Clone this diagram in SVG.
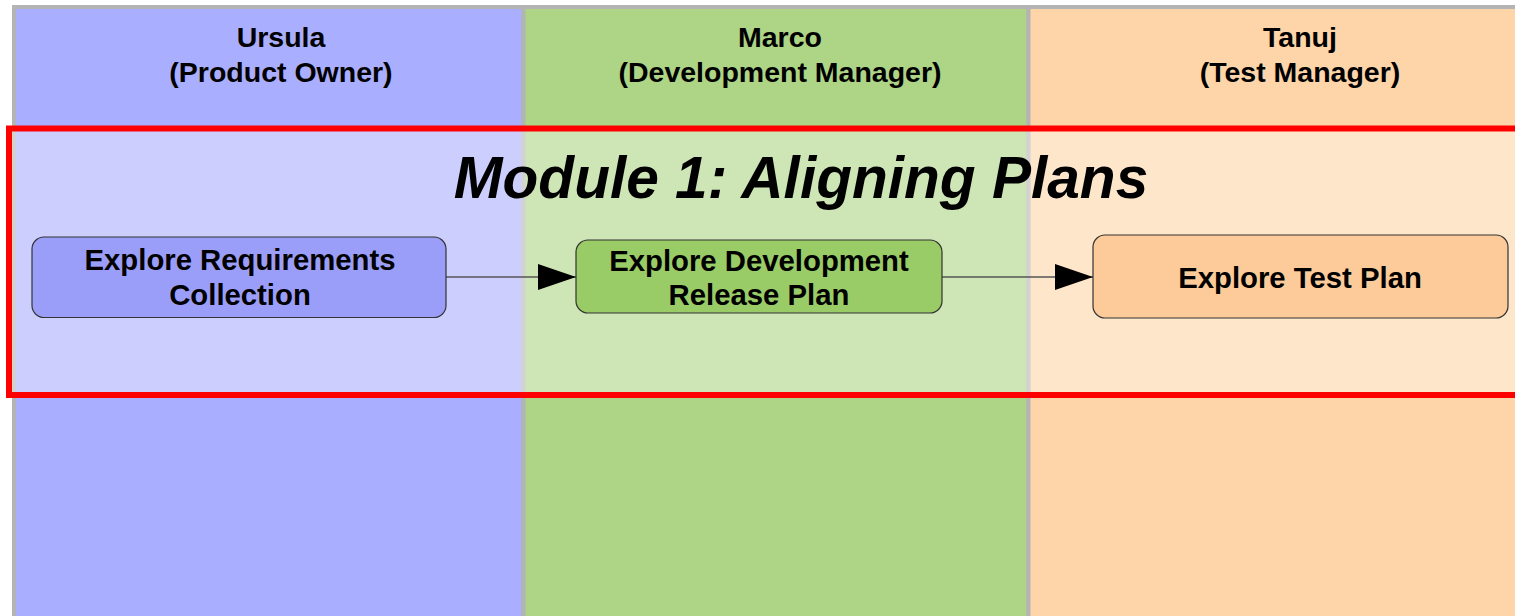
<svg xmlns="http://www.w3.org/2000/svg" width="1515" height="616" viewBox="0 0 1515 616">
  <style>
    .hdr { font-family: "Liberation Sans", Arial, sans-serif; font-weight: bold; font-size: 28.5px; fill: #000; text-anchor: middle; }
    .lbl { font-family: "Liberation Sans", Arial, sans-serif; font-weight: bold; font-size: 29.3px; fill: #000; text-anchor: middle; }
    .title { font-family: "Liberation Sans", Arial, sans-serif; font-weight: bold; font-style: italic; font-size: 58.6px; fill: #000; text-anchor: middle; }
    .lane { stroke: #b4b4b4; stroke-width: 4; }
    .node { stroke: #333; stroke-width: 1.2; }
    .conn { stroke: #555; stroke-width: 1.6; fill: none; }
  </style>
  <defs>
    <marker id="arrow" markerUnits="userSpaceOnUse" markerWidth="40" markerHeight="28" refX="38" refY="13" orient="auto">
      <path d="M0,0 L38,13 L0,26 Z" fill="#000"/>
    </marker>
  </defs>
  <rect width="1515" height="616" fill="#fff"/>

  <g id="lane-ursula">
    <rect class="lane" x="14" y="7" width="509.5" height="620" fill="#aaaefe"/>
    <text class="hdr" x="281" y="47">Ursula</text>
    <text class="hdr" x="281" y="82">(Product Owner)</text>
  </g>
  <g id="lane-marco">
    <rect class="lane" x="523.5" y="7" width="505" height="620" fill="#add585"/>
    <text class="hdr" x="780" y="47">Marco</text>
    <text class="hdr" x="780" y="82">(Development Manager)</text>
  </g>
  <g id="lane-tanuj">
    <rect class="lane" x="1028.5" y="7" width="520" height="620" fill="#fed5a8"/>
    <text class="hdr" x="1300" y="47">Tanuj</text>
    <text class="hdr" x="1300" y="82">(Test Manager)</text>
  </g>

  <g id="module-1">
    <rect x="9" y="128.5" width="1530" height="266.5" fill="#fff" fill-opacity="0.4" stroke="#ff0000" stroke-width="6"/>
    <text class="title" x="801" y="198">Module 1: Aligning Plans</text>
  </g>

  <g id="connectors">
    <line class="conn" x1="446" y1="277" x2="576" y2="277" marker-end="url(#arrow)"/>
    <line class="conn" x1="942" y1="277" x2="1093" y2="277" marker-end="url(#arrow)"/>
  </g>

  <g id="node-requirements">
    <rect class="node" x="32" y="237" width="414" height="80.5" rx="12" ry="12" fill="#9b9ef9"/>
    <text class="lbl" x="240" y="270">Explore Requirements</text>
    <text class="lbl" x="240" y="305">Collection</text>
  </g>
  <g id="node-development">
    <rect class="node" x="576" y="240" width="366" height="73" rx="12" ry="12" fill="#99cc66"/>
    <text class="lbl" x="759" y="271">Explore Development</text>
    <text class="lbl" x="759" y="305">Release Plan</text>
  </g>
  <g id="node-test">
    <rect class="node" x="1093" y="235" width="415" height="83" rx="12" ry="12" fill="#fdcb99"/>
    <text class="lbl" x="1300" y="288">Explore Test Plan</text>
  </g>
</svg>
